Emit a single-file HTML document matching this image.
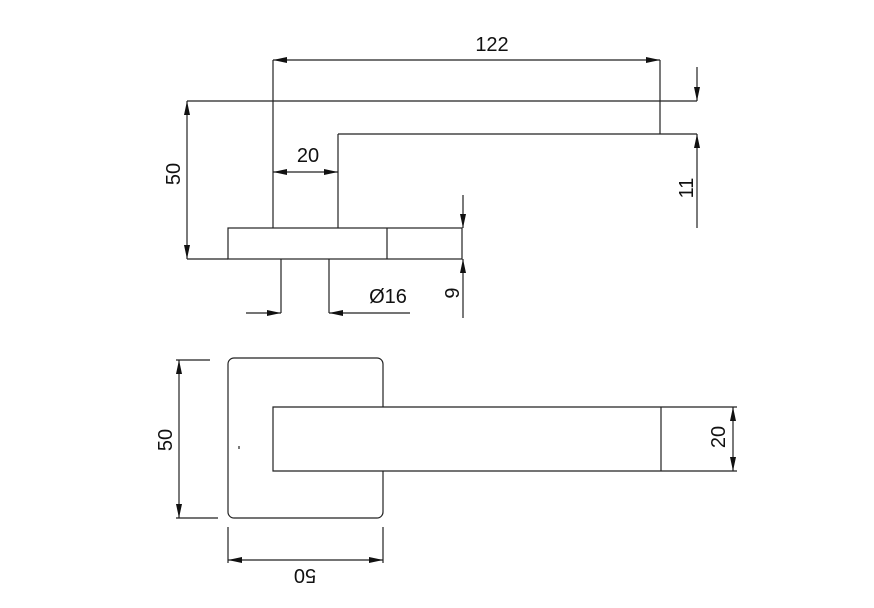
<!DOCTYPE html>
<html><head><style>body{margin:0;background:#fff}svg{display:block}text{font-family:"Liberation Sans",sans-serif;font-size:20px;fill:#111}</style></head><body>
<svg width="874" height="608" viewBox="0 0 874 608" xmlns="http://www.w3.org/2000/svg">
<defs><marker id="a" markerWidth="14" markerHeight="8" refX="14" refY="4" orient="auto-start-reverse" markerUnits="userSpaceOnUse"><path d="M0,1 L14,4 L0,7 Z" fill="#111"/></marker></defs>
<g stroke="#222" stroke-width="1.2" fill="none">
<line x1="187" y1="101" x2="697" y2="101"/>
<line x1="338" y1="134" x2="697" y2="134"/>
<line x1="660" y1="60" x2="660" y2="134"/>
<line x1="273" y1="60" x2="273" y2="228"/>
<line x1="338" y1="134" x2="338" y2="228"/>
<rect x="228" y="228" width="234" height="31"/>
<line x1="387" y1="228" x2="387" y2="259"/>
<line x1="187" y1="259" x2="228" y2="259"/>
<line x1="281" y1="259" x2="281" y2="313"/>
<line x1="329" y1="259" x2="329" y2="313"/>
<line x1="273" y1="60" x2="660" y2="60" marker-start="url(#a)" marker-end="url(#a)"/>
<line x1="273" y1="172" x2="338" y2="172" marker-start="url(#a)" marker-end="url(#a)"/>
<line x1="187" y1="101" x2="187" y2="259" marker-start="url(#a)" marker-end="url(#a)"/>
<line x1="246" y1="313" x2="281" y2="313" marker-end="url(#a)"/>
<line x1="410" y1="313" x2="329" y2="313" marker-end="url(#a)"/>
<line x1="463" y1="195" x2="463" y2="228" marker-end="url(#a)"/>
<line x1="463" y1="318" x2="463" y2="259" marker-end="url(#a)"/>
<line x1="697" y1="67" x2="697" y2="101" marker-end="url(#a)"/>
<line x1="697" y1="228" x2="697" y2="134" marker-end="url(#a)"/>
<rect x="228" y="358" width="155" height="160" rx="6"/>
<path d="M737,407 H273 V471 H737" fill="#fff"/>
<line x1="661" y1="407" x2="661" y2="471"/>
<line x1="176" y1="360" x2="210" y2="360"/>
<line x1="176" y1="518" x2="218" y2="518"/>
<line x1="179" y1="360" x2="179" y2="518" marker-start="url(#a)" marker-end="url(#a)"/>
<line x1="733" y1="407" x2="733" y2="471" marker-start="url(#a)" marker-end="url(#a)"/>
<line x1="228" y1="527" x2="228" y2="563"/>
<line x1="383" y1="527" x2="383" y2="563"/>
<line x1="228" y1="560" x2="383" y2="560" marker-start="url(#a)" marker-end="url(#a)"/>
<line x1="239" y1="446" x2="239" y2="449"/>
</g>
<text x="492" y="51" text-anchor="middle">122</text>
<text x="308" y="162" text-anchor="middle">20</text>
<text x="388" y="303" text-anchor="middle">Ø16</text>
<text transform="translate(180,174) rotate(-90)" text-anchor="middle">50</text>
<text transform="translate(459,293) rotate(-90)" text-anchor="middle">9</text>
<text transform="translate(693,188) rotate(-90)" text-anchor="middle">11</text>
<text transform="translate(172,440) rotate(-90)" text-anchor="middle">50</text>
<text transform="translate(725,437) rotate(-90)" text-anchor="middle">20</text>
<text transform="translate(305,569) rotate(180)" text-anchor="middle">50</text>
</svg>
</body></html>
